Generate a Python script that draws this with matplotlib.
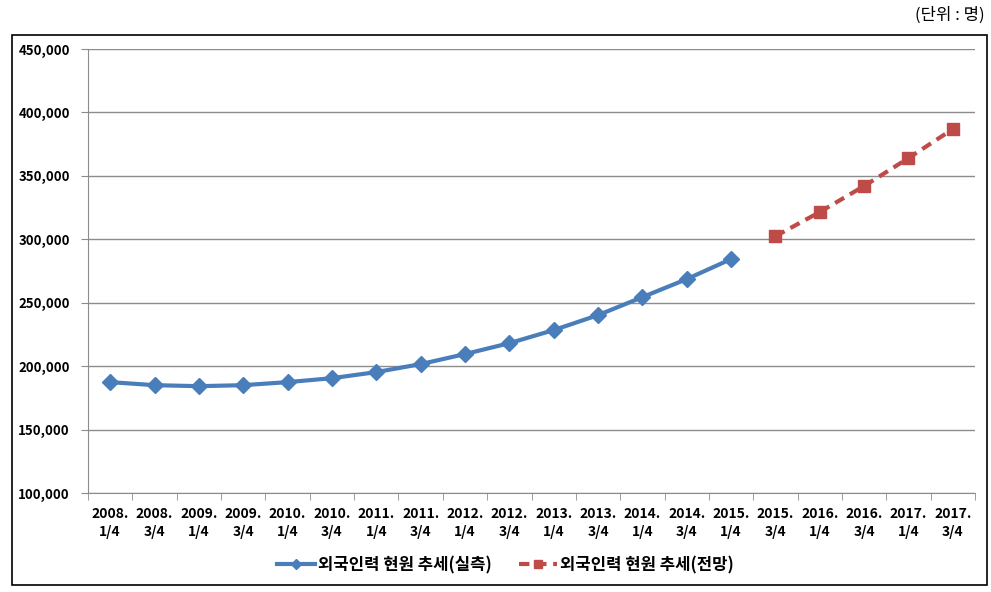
import numpy as np
import matplotlib
matplotlib.use("Agg")
import matplotlib.pyplot as plt
from matplotlib.patches import Rectangle
from matplotlib.ticker import FuncFormatter

plt.rcParams['font.family'] = ['Noto Sans CJK KR', 'DejaVu Sans']

periods = ["2008.\n1/4", "2008.\n3/4", "2009.\n1/4", "2009.\n3/4", "2010.\n1/4",
           "2010.\n3/4", "2011.\n1/4", "2011.\n3/4", "2012.\n1/4", "2012.\n3/4",
           "2013.\n1/4", "2013.\n3/4", "2014.\n1/4", "2014.\n3/4", "2015.\n1/4",
           "2015.\n3/4", "2016.\n1/4", "2016.\n3/4", "2017.\n1/4", "2017.\n3/4"]
actual = [187400, 185000, 184200, 185000, 187400, 190500, 195300, 201600,
          209500, 218100, 228400, 240200, 254400, 268600, 284400]
forecast = [302400, 321500, 342000, 364000, 386900]
yticks = [100000, 150000, 200000, 250000, 300000, 350000, 400000, 450000]

C_ACT, C_FC, C_GRID = "#4a7ebb", "#be4b48", "#8c8c8c"

fig = plt.figure(figsize=(9.91, 5.92), dpi=100)
ax = fig.add_axes([88 / 991, 1 - 493 / 592, 887 / 991, 444 / 592])

x = np.arange(len(periods))
xa = x[:len(actual)]
xf = x[len(actual):]
ax.plot(xa, actual, color=C_ACT, lw=3, marker="D", ms=8, label="외국인력 현원 추세(실측)")
ax.plot(xf, forecast, color=C_FC, lw=3, ls=(0, (2.5, 1.6)), marker="s", ms=9,
        label="외국인력 현원 추세(전망)")

ax.set_xlim(-0.5, len(periods) - 0.5)
ax.set_ylim(100000, 450000)
ax.set_yticks(yticks)
ax.yaxis.set_major_formatter(FuncFormatter(lambda v, p: f"{int(v):,}"))
ax.set_xticks(x)
ax.set_xticklabels(periods, fontsize=10, fontweight="bold", linespacing=1.4)
ax.set_xticks(np.arange(-0.5, len(periods)), minor=True)
ax.tick_params(axis="x", which="major", length=0, pad=10)
ax.tick_params(axis="x", which="minor", length=5, color=C_GRID)
ax.tick_params(axis="y", length=5, color=C_GRID, labelsize=9.5, pad=8)
for t in ax.get_yticklabels():
    t.set_fontweight("bold")
ax.grid(axis="y", color=C_GRID, lw=1)
ax.set_axisbelow(True)
for s in ["top", "right"]:
    ax.spines[s].set_visible(False)
for s in ["left", "bottom"]:
    ax.spines[s].set_color(C_GRID)

leg = fig.legend(loc="center", bbox_to_anchor=(0.51, 1 - 565 / 592), ncol=2,
                 frameon=False, handlelength=2.3, handletextpad=0.2, columnspacing=1.6,
                 markerscale=0.7, prop={"weight": "bold", "size": 12})

fig.patches.append(Rectangle((12 / 991, 1 - 585 / 592), 975 / 991, 550 / 592,
                             transform=fig.transFigure, fill=False, ec="black", lw=1.2))
fig.text(985 / 991, 1 - 15 / 592, "(단위 : 명)", ha="right", va="center", fontsize=12)

fig.savefig("out.png", dpi=100)
